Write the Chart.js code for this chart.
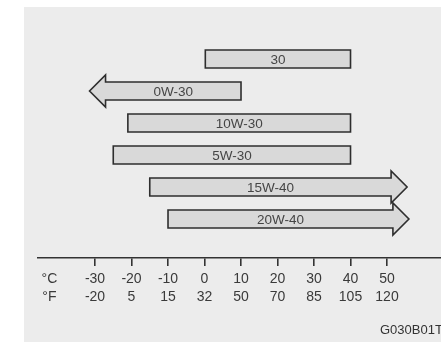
<!DOCTYPE html>
<html>
<head>
<meta charset="utf-8">
<script src="https://cdn.jsdelivr.net/npm/chart.js@4"></script>
<style>
  html, body { margin: 0; padding: 0; background: #fff; }
  #wrap { position: absolute; left: 24px; top: 7px; width: 417px; height: 335px; background: #ececec; }
</style>
</head>
<body>
<div id="wrap"><canvas id="oilChart" width="417" height="335"></canvas></div>
<script>
// oil grades and their temperature ranges (°C)
const grades = ['30', '0W-30', '10W-30', '5W-30', '15W-40', '20W-40'];
const lowC = [0, -31.5, -21, -25, -15, -10];
const highC = [40, 10, 40, 40, 55.5, 56];
const arrowDir = ['', 'left', '', '', 'right', 'right'];

// axis tick labels
const celsiusTicks = [-30, -20, -10, 0, 10, 20, 30, 40, 50];
const fahrenheitTicks = ['-20', '5', '15', '32', '50', '70', '85', '105', '120'];
const unitPos = -42.5;

const FONT = 'Arial, "Liberation Sans", sans-serif';

// ——— draws bars as boxes / arrows, with the grade name inside ———
const arrowBars = {
  id: 'arrowBars',
  afterDatasetsDraw(chart) {
    const ctx = chart.ctx;
    const meta = chart.getDatasetMeta(0);
    ctx.save();
    meta.data.forEach((bar, i) => {
      const p = bar.getProps(['x', 'y', 'base', 'height'], true);
      let left = Math.min(p.x, p.base), right = Math.max(p.x, p.base);
      const top = p.y - p.height / 2, bot = p.y + p.height / 2;
      const headLen = 16, headHalf = 16;
      ctx.beginPath();
      if (arrowDir[i] === 'right') {
        const neck = right - headLen;
        ctx.moveTo(left, top); ctx.lineTo(neck, top); ctx.lineTo(neck, p.y - headHalf);
        ctx.lineTo(right, p.y); ctx.lineTo(neck, p.y + headHalf); ctx.lineTo(neck, bot);
        ctx.lineTo(left, bot);
        right = neck;
      } else if (arrowDir[i] === 'left') {
        const neck = left + headLen;
        ctx.moveTo(right, top); ctx.lineTo(neck, top); ctx.lineTo(neck, p.y - headHalf);
        ctx.lineTo(left, p.y); ctx.lineTo(neck, p.y + headHalf); ctx.lineTo(neck, bot);
        ctx.lineTo(right, bot);
        left = neck;
      } else {
        ctx.rect(left, top, right - left, bot - top);
      }
      ctx.closePath();
      ctx.fillStyle = '#d9d9d9';
      ctx.fill();
      ctx.lineWidth = 1.6;
      ctx.strokeStyle = '#2e2e2e';
      ctx.lineJoin = 'miter';
      ctx.stroke();

      ctx.fillStyle = '#454545';
      ctx.font = '13.5px ' + FONT;
      ctx.textAlign = 'center';
      ctx.textBaseline = 'middle';
      ctx.fillText(grades[i], (left + right) / 2, p.y + 1);
    });
    ctx.restore();
  },
  afterDraw(chart) {
    const ctx = chart.ctx;
    ctx.save();
    ctx.fillStyle = '#333';
    ctx.font = '13px ' + FONT;
    ctx.textAlign = 'left';
    ctx.textBaseline = 'middle';
    ctx.fillText('G030B01T', 356, 323);
    ctx.restore();
  }
};

const ctx = document.getElementById('oilChart').getContext('2d');
new Chart(ctx, {
  type: 'bar',
  data: {
    datasets: [{
      data: grades.map((g, i) => ({ x: [lowC[i], highC[i]], y: i })),
      backgroundColor: 'rgba(0,0,0,0)',
      borderWidth: 0,
      barThickness: 18
    }]
  },
  options: {
    indexAxis: 'y',
    responsive: false,
    animation: false,
    devicePixelRatio: 1,
    layout: { padding: { top: 36, left: 14, right: 0, bottom: 0 } },
    plugins: { legend: { display: false }, tooltip: { enabled: false } },
    scales: {
      y: { type: 'linear', reverse: true, offset: false, min: -0.5, max: 6.22, display: false },
      x: {
        type: 'linear',
        min: -45.62,
        max: 64.79,
        afterBuildTicks: s => { s.ticks = [unitPos, ...celsiusTicks].map(v => ({ value: v })); },
        afterFit: s => { s.height = 84; },
        border: { display: true, color: '#333', width: 1.6 },
        grid: {
          drawOnChartArea: false,
          tickLength: 8,
          lineWidth: 1.6,
          tickColor: c => (c.tick && c.tick.value === unitPos) ? 'rgba(0,0,0,0)' : '#333'
        },
        ticks: {
          autoSkip: false,
          maxRotation: 0,
          padding: 4,
          color: '#3a3a3a',
          font: { family: FONT, size: 14, lineHeight: 1.3 },
          callback: (v, idx) => idx === 0 ? ['°C', '°F'] : [String(celsiusTicks[idx - 1]), fahrenheitTicks[idx - 1]]
        }
      }
    }
  },
  plugins: [arrowBars]
});
</script>
</body>
</html>
